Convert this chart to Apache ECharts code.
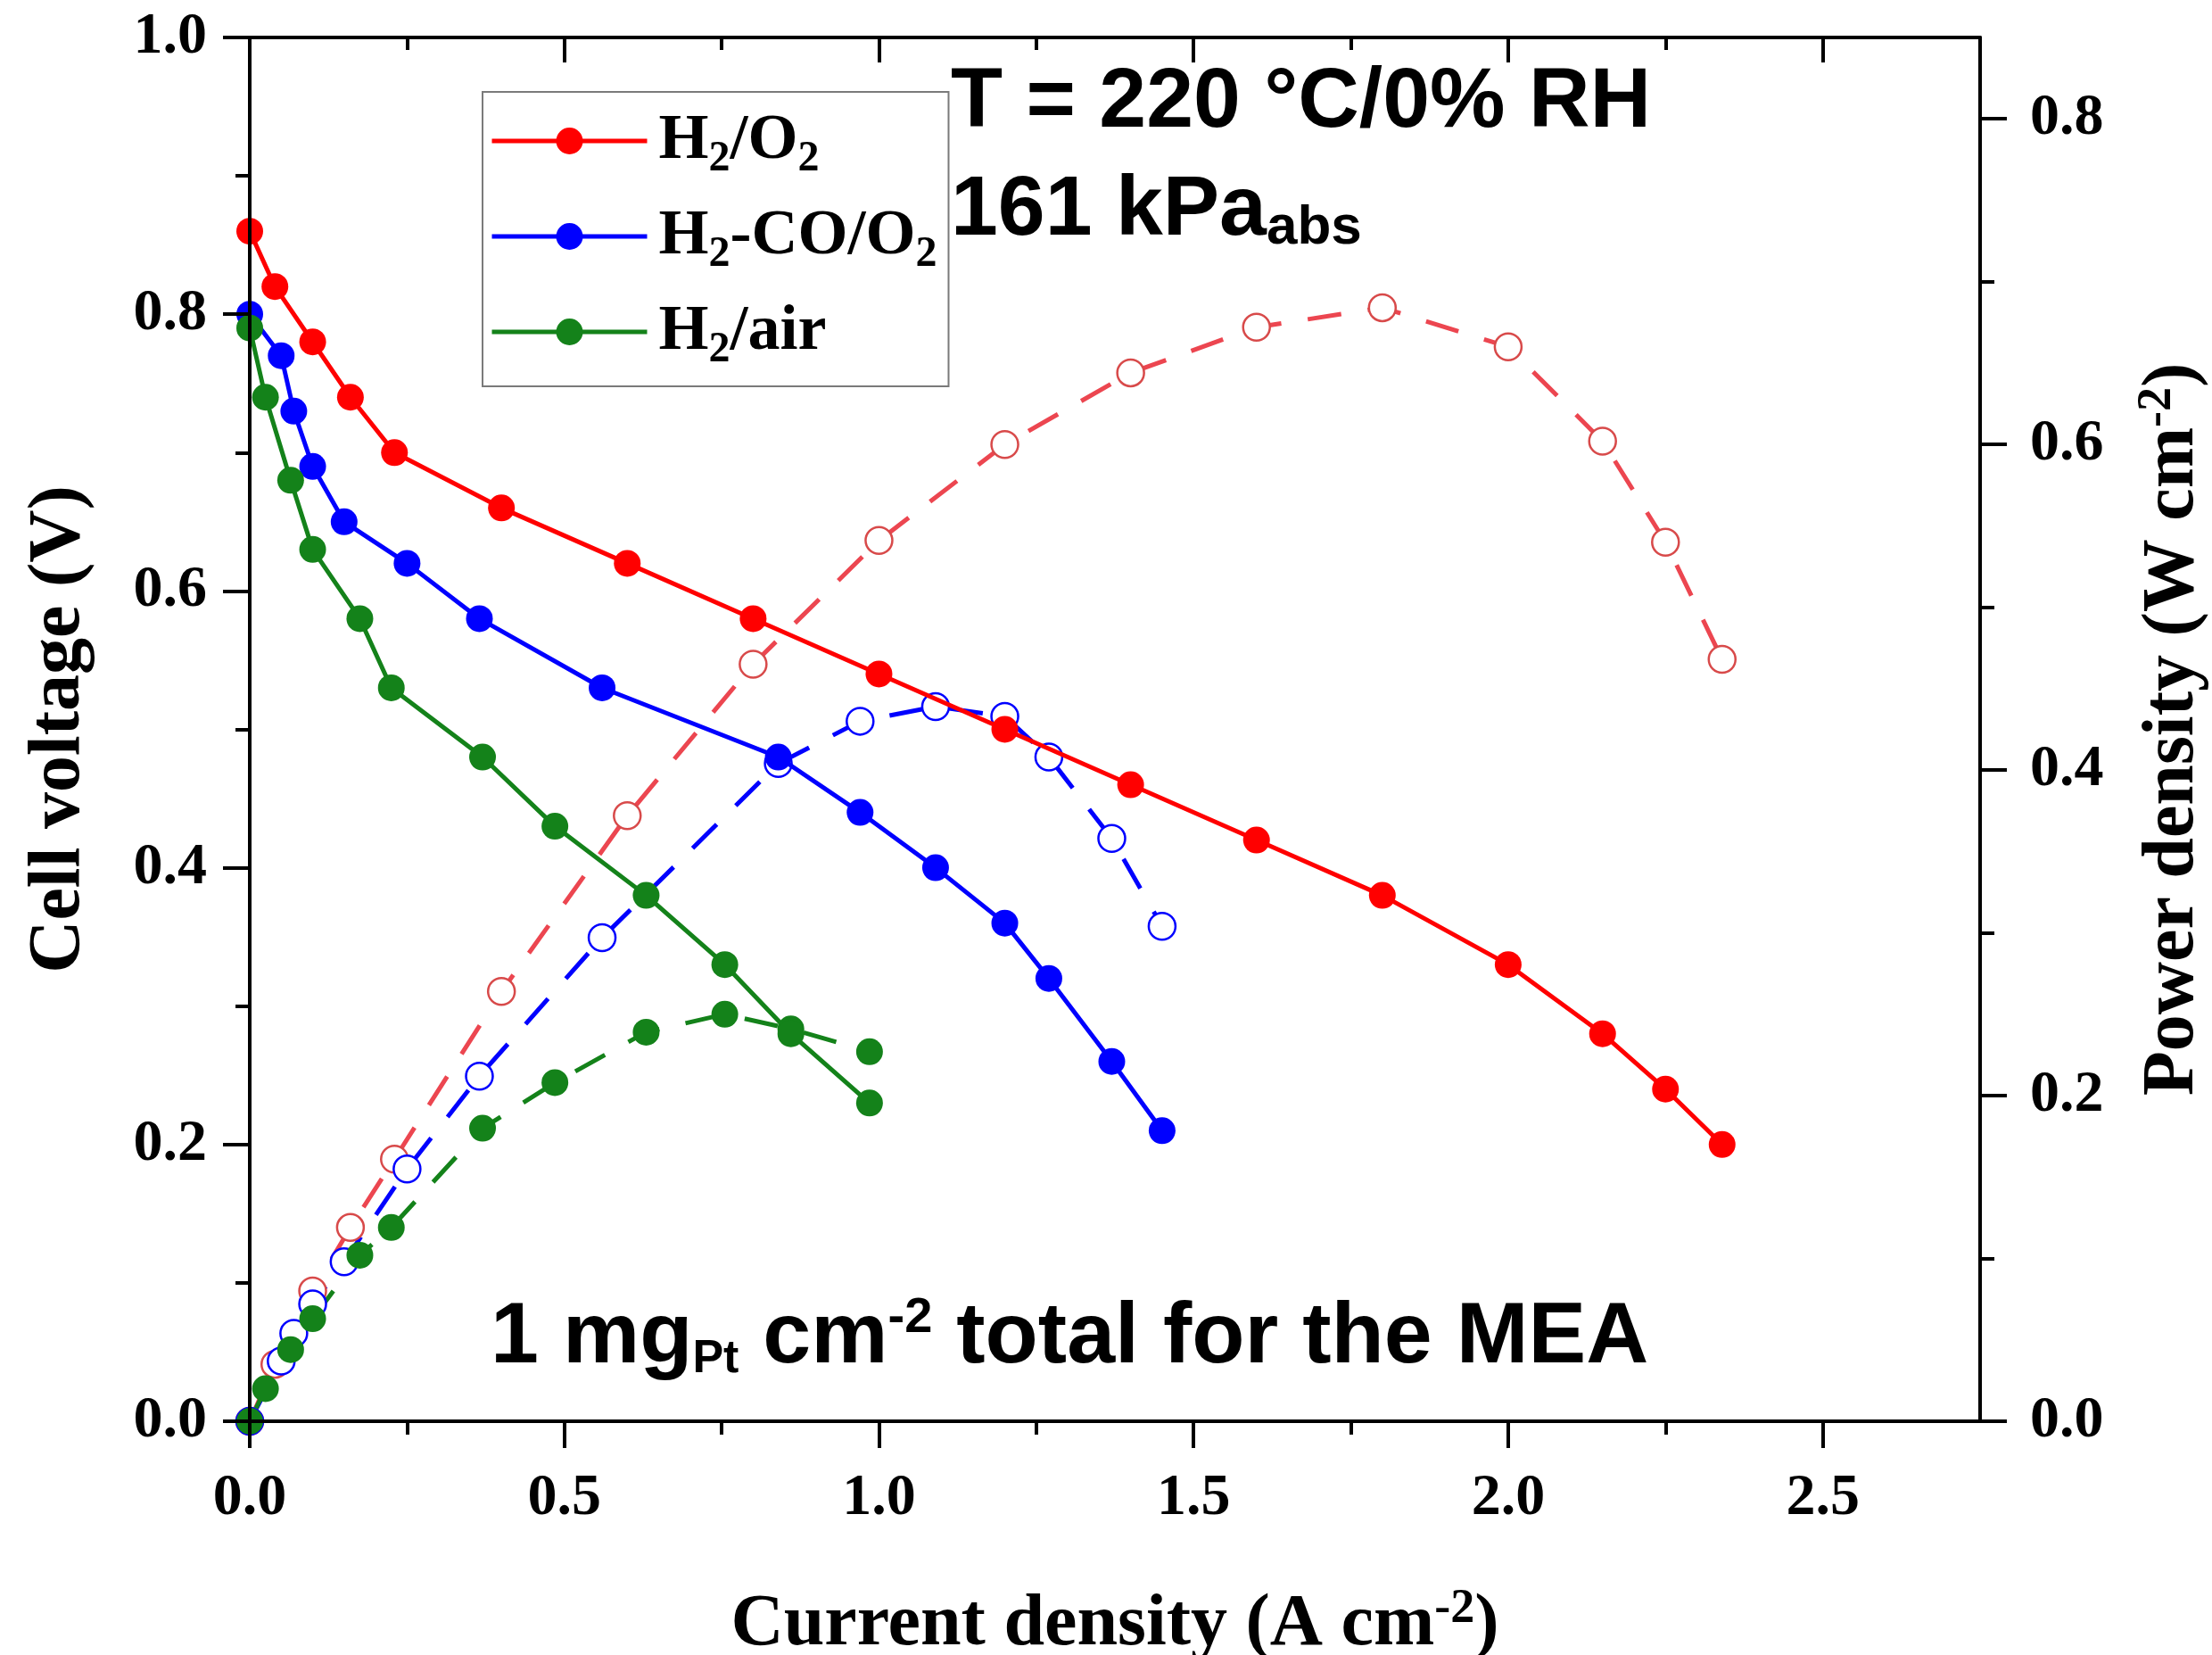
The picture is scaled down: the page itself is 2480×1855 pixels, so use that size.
<!DOCTYPE html>
<html><head><meta charset="utf-8">
<script src="https://cdn.jsdelivr.net/npm/echarts@6/dist/echarts.min.js"></script>
<style>html,body{margin:0;padding:0;background:#fff}#c{width:2480px;height:1855px}</style>
</head><body><div id="c"></div>
<script>
// ---- tick labels ----
const xTicks = [0, 0.5, 1.0, 1.5, 2.0, 2.5];
const vTicks = [0, 0.2, 0.4, 0.6, 0.8, 1.0];
const pTicks = [0, 0.2, 0.4, 0.6, 0.8];

// ---- legend names ----
const seriesNames = ['H2/O2', 'H2-CO/O2', 'H2/air'];

// ---- H2/O2 ----
const h2o2J = [0, 0.04, 0.10, 0.16, 0.23, 0.40, 0.60, 0.80, 1.00, 1.20, 1.40, 1.60, 1.80, 2.00, 2.15, 2.25, 2.34];
const h2o2V = [0.86, 0.82, 0.78, 0.74, 0.70, 0.66, 0.62, 0.58, 0.54, 0.50, 0.46, 0.42, 0.38, 0.33, 0.28, 0.24, 0.20];
const h2o2P = [0, 0.035, 0.080, 0.119, 0.161, 0.264, 0.372, 0.465, 0.541, 0.600, 0.644, 0.672, 0.684, 0.660, 0.602, 0.540, 0.468];

// ---- H2-CO/O2 ----
const coJ = [0, 0.05, 0.07, 0.10, 0.15, 0.25, 0.365, 0.56, 0.84, 0.97, 1.09, 1.20, 1.27, 1.37, 1.45];
const coV = [0.80, 0.77, 0.73, 0.69, 0.65, 0.62, 0.58, 0.53, 0.48, 0.44, 0.40, 0.36, 0.32, 0.26, 0.21];
const coP = [0, 0.037, 0.054, 0.072, 0.098, 0.155, 0.212, 0.297, 0.404, 0.430, 0.439, 0.433, 0.408, 0.358, 0.304];

// ---- H2/air ----
const airJ = [0, 0.025, 0.065, 0.10, 0.175, 0.225, 0.37, 0.485, 0.63, 0.755, 0.86, 0.985];
const airV = [0.79, 0.74, 0.68, 0.63, 0.58, 0.53, 0.48, 0.43, 0.38, 0.33, 0.28, 0.23];
const airP = [0, 0.020, 0.044, 0.063, 0.102, 0.119, 0.180, 0.208, 0.239, 0.250, 0.241, 0.227];

const serif = '"Liberation Serif", "Times New Roman", serif';
const sans = '"Liberation Sans", Arial, sans-serif';
const RED = '#ff0000', BLUE = '#0000ff', GREEN = '#14821a';
const RED_D = '#ec4650', RED_O = '#d84a4a';
const zip = (a, b) => a.map((v, i) => [v, b[i]]);

const axLine = {onZero: false, lineStyle: {color: '#000', width: 4}};
const tickStyle = {color: '#000', width: 4};
const lblStyle = {fontFamily: serif, fontWeight: 'bold', fontSize: 66, color: '#000'};
const supRich = {fontFamily: serif, fontWeight: 'bold', fontSize: 54, lineHeight: 44, verticalAlign: 'top', color: '#000'};

const chart = echarts.init(document.getElementById('c'), null, {renderer: 'canvas'});
const option = {
  animation: false,
  backgroundColor: '#fff',
  grid: {left: 280, right: 260, top: 42, bottom: 262, containLabel: false, outerBoundsMode: 'none'},
  legend: {
    data: seriesNames,
    orient: 'vertical',
    left: 541, top: 103,
    padding: [10, 13, 16, 8],
    itemGap: 17,
    itemWidth: 174,
    itemHeight: 37.5,
    borderColor: '#7a7a7a', borderWidth: 2, borderRadius: 0,
    lineStyle: {width: 5},
    formatter: name => name.replace(/2/g, '{sub|2}'),
    textStyle: {
      fontFamily: serif, fontWeight: 'bold', fontSize: 72, lineHeight: 90, color: '#000',
      padding: [0, 0, 0, 8],
      rich: {sub: {fontFamily: serif, fontWeight: 'bold', fontSize: 48, lineHeight: 4, verticalAlign: 'bottom', color: '#000'}}
    }
  },
  xAxis: [
    {
      type: 'value', min: 0, max: 2.75, interval: 0.5, position: 'bottom', z: 10,
      axisLine: axLine,
      axisTick: {show: true, inside: false, length: 30, lineStyle: tickStyle, customValues: xTicks},
      minorTick: {show: true, splitNumber: 2, length: 15, lineStyle: tickStyle},
      axisLabel: Object.assign({customValues: xTicks, formatter: v => Number(v).toFixed(1), margin: 54}, lblStyle),
      splitLine: {show: false}, minorSplitLine: {show: false},
      name: 'Current density (A cm{sup|-2})', nameLocation: 'middle', nameGap: 184,
      nameTextStyle: {fontFamily: serif, fontWeight: 'bold', fontSize: 82, lineHeight: 90, color: '#000', rich: {sup: supRich}}
    },
    {
      type: 'value', min: 0, max: 2.75, interval: 0.5, position: 'top', z: 10,
      axisLine: axLine,
      axisTick: {show: true, inside: true, length: 28, lineStyle: tickStyle, customValues: xTicks},
      minorTick: {show: true, splitNumber: 2, length: 14, lineStyle: tickStyle},
      axisLabel: {show: false},
      splitLine: {show: false}
    }
  ],
  yAxis: [
    {
      type: 'value', min: 0, max: 1.0, interval: 0.2, position: 'left', z: 10,
      axisLine: Object.assign({show: true}, axLine),
      axisTick: {show: true, inside: false, length: 30, lineStyle: tickStyle, customValues: vTicks},
      minorTick: {show: true, splitNumber: 2, length: 16, lineStyle: tickStyle},
      axisLabel: Object.assign({customValues: vTicks, formatter: v => Number(v).toFixed(1), margin: 48}, lblStyle),
      splitLine: {show: false},
      name: 'Cell voltage (V)', nameLocation: 'middle', nameRotate: 90, nameGap: 168,
      nameTextStyle: {fontFamily: serif, fontWeight: 'bold', fontSize: 82, lineHeight: 90, color: '#000'}
    },
    {
      type: 'value', min: 0, max: 0.85, interval: 0.2, position: 'right', z: 10,
      axisLine: Object.assign({show: true}, axLine),
      axisTick: {show: true, inside: false, length: 30, lineStyle: tickStyle, customValues: pTicks},
      minorTick: {show: true, splitNumber: 2, length: 16, lineStyle: tickStyle},
      axisLabel: Object.assign({customValues: pTicks, formatter: v => Number(v).toFixed(1), margin: 56}, lblStyle),
      splitLine: {show: false},
      name: 'Power density (W cm{sup|-2})', nameLocation: 'middle', nameRotate: 90, nameGap: 172,
      nameTextStyle: {fontFamily: serif, fontWeight: 'bold', fontSize: 82, lineHeight: 90, color: '#000', rich: {sup: supRich}}
    }
  ],
  series: [
    {name: 'P H2/O2', type: 'line', xAxisIndex: 0, yAxisIndex: 1, data: zip(h2o2J, h2o2P),
     symbol: 'circle', symbolSize: 30, z: 2,
     itemStyle: {color: '#fff', borderColor: RED_O, borderWidth: 2.5},
     lineStyle: {color: RED_D, width: 5, type: [38, 30]}},
    {name: 'P H2-CO/O2', type: 'line', xAxisIndex: 0, yAxisIndex: 1, data: zip(coJ, coP),
     symbol: 'circle', symbolSize: 30, z: 2,
     itemStyle: {color: '#fff', borderColor: BLUE, borderWidth: 2.5},
     lineStyle: {color: BLUE, width: 5, type: [38, 30]}},
    {name: 'P H2/air', type: 'line', xAxisIndex: 0, yAxisIndex: 1, data: zip(airJ, airP),
     symbol: 'circle', symbolSize: 30, z: 2,
     itemStyle: {color: GREEN},
     lineStyle: {color: GREEN, width: 5, type: [38, 30]}},
    {name: seriesNames[0], type: 'line', xAxisIndex: 0, yAxisIndex: 0, data: zip(h2o2J, h2o2V),
     symbol: 'circle', symbolSize: 30, z: 3,
     itemStyle: {color: RED}, lineStyle: {color: RED, width: 5}},
    {name: seriesNames[1], type: 'line', xAxisIndex: 0, yAxisIndex: 0, data: zip(coJ, coV),
     symbol: 'circle', symbolSize: 30, z: 3,
     itemStyle: {color: BLUE}, lineStyle: {color: BLUE, width: 5}},
    {name: seriesNames[2], type: 'line', xAxisIndex: 0, yAxisIndex: 0, data: zip(airJ, airV),
     symbol: 'circle', symbolSize: 30, z: 3,
     itemStyle: {color: GREEN}, lineStyle: {color: GREEN, width: 5}}
  ],
  graphic: [
    {type: 'text', x: 1066, y: 116, z: 20,
     style: {text: 'T = 220 °C/0% RH', fontFamily: sans, fontWeight: 'bold', fontSize: 95, fill: '#000', verticalAlign: 'middle', align: 'left'}},
    {type: 'text', x: 1066, y: 187, z: 20,
     style: {text: '161 kPa{sub|abs}', fontFamily: sans, fontWeight: 'bold', fontSize: 95, lineHeight: 100, fill: '#000', verticalAlign: 'top', align: 'left',
       rich: {sub: {fontFamily: sans, fontWeight: 'bold', fontSize: 62, lineHeight: 16, verticalAlign: 'bottom', fill: '#000'}}}},
    {type: 'text', x: 550, y: 1450, z: 20,
     style: {text: '1 mg{sub|Pt} cm{sup|-2} total for the MEA', fontFamily: sans, fontWeight: 'bold', fontSize: 97, lineHeight: 100, fill: '#000', verticalAlign: 'top', align: 'left',
       rich: {
         sub: {fontFamily: sans, fontWeight: 'bold', fontSize: 52, lineHeight: 71, verticalAlign: 'bottom', fill: '#000'},
         sup: {fontFamily: sans, fontWeight: 'bold', fontSize: 56, lineHeight: 58, verticalAlign: 'top', fill: '#000'}
       }}}
  ]
};
chart.setOption(option);
</script>
</body></html>
